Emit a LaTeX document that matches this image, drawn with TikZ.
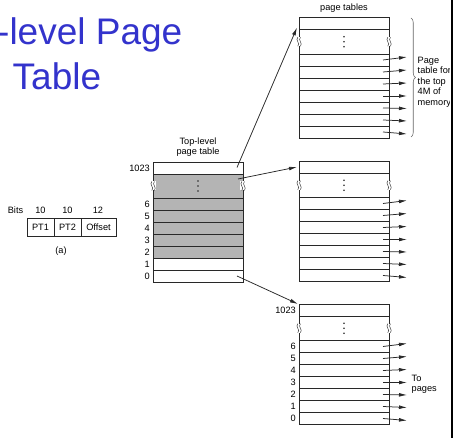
\documentclass[tikz,border=0pt]{standalone}
\usepackage{fontspec}
\setmainfont{Liberation Sans}
\usetikzlibrary{arrows.meta,decorations.pathreplacing,calc}
\definecolor{titleblue}{RGB}{51,51,204}
\definecolor{linec}{RGB}{40,40,40}
\definecolor{cellgray}{RGB}{180,180,180}
\newcommand{\brkmark}[1]{%
  \fill[white] ($(#1)+(-2.6,-4.5)$) rectangle ($(#1)+(2.6,4.5)$);
  \draw[linec, line width=0.45pt] ($(#1)+(-1.2,-4.5)$) .. controls ($(#1)+(-4.2,-1.5)$) and ($(#1)+(1.8,1.5)$) .. ($(#1)+(-1.2,4.5)$);
  \draw[linec, line width=0.45pt] ($(#1)+(1.4,-4.5)$) .. controls ($(#1)+(-1.6,-1.5)$) and ($(#1)+(4.4,1.5)$) .. ($(#1)+(1.4,4.5)$);
}
\newcommand{\vdotsmark}[1]{%
  \foreach \d in {-5,0,5} \fill[linec] ($(#1)+(0,\d)$) circle (0.85pt);
}
\begin{document}
\begin{tikzpicture}[x=1pt,y=-1pt,
  cell/.style={draw=linec, line width=0.8pt, minimum width=90pt, minimum height=12pt,
    anchor=north west, inner sep=0pt, outer sep=0pt},
  lbl/.style={font=\fontsize{9.2}{10.5}\selectfont, inner sep=0pt},
  fieldbox/.style={draw=linec, line width=0.8pt, minimum height=18pt, anchor=north west,
    inner sep=0pt, outer sep=0pt, font=\fontsize{9.2}{10.5}\selectfont},
  ptr/.style={-{Latex[length=8pt,width=3.8pt]}, line width=0.75pt, draw=linec},
  titletext/.style={font=\fontsize{37}{45}\selectfont, text=titleblue, inner sep=0pt, anchor=base west},
]
\useasboundingbox (0,0) rectangle (453,438);
\fill[white] (0,0) rectangle (453,438);
\clip (0,0) rectangle (453,438);

% title
\node[titletext] (title1) at (-3,45) {-level Page};
\node[titletext] (title2) at (12.5,90) {Table};

% (a) address fields
\node[fieldbox, minimum width=27pt] (pt1) at (27,218) {PT1};
\node[fieldbox, minimum width=27pt] (pt2) at (54,218) {PT2};
\node[fieldbox, minimum width=35pt] (off) at (81,218) {Offset};
\node[lbl, anchor=base] (bits) at (15.5,214) {Bits};
\node[lbl, anchor=base] (b1) at (40.5,214) {10};
\node[lbl, anchor=base] (b2) at (67.5,214) {10};
\node[lbl, anchor=base] (b3) at (98,214) {12};
\node[lbl, anchor=base] (alab) at (61,254) {(a)};

% top-level page table
\node[cell] (TL-top) at (153,162) {};
\node[cell, minimum height=24pt, fill=cellgray] (TL-dots) at (153,174) {};
\foreach \i/\f in {6/cellgray,5/cellgray,4/cellgray,3/cellgray,2/cellgray,1/white,0/white}
  \node[cell, fill=\f] (TL-r\i) at (153,{198+(6-\i)*12}) {};
\vdotsmark{TL-dots.center}
\brkmark{TL-dots.west}
\brkmark{TL-dots.east}
\node[lbl, anchor=east] (TL-l1023) at ($(TL-top.west)+(-3,0)$) {1023};
\foreach \i in {6,...,0}
  \node[lbl, anchor=east] (TL-l\i) at ($(TL-r\i.west)+(-3,0)$) {\i};
\node[lbl, anchor=base] (TLt1) at (198,144.5) {Top-level};
\node[lbl, anchor=base] (TLt2) at (198,154.5) {page table};

% second-level page tables
\foreach \n/\y in {PA/17.5,PB/161,PC/304}{
  \node[cell] (\n-top) at (299,\y) {};
  \node[cell, minimum height=24.5pt] (\n-dots) at (299,\y+12) {};
  \foreach \i in {6,...,0}
    \node[cell] (\n-r\i) at (299,{\y+36.5+(6-\i)*12}) {};
  \vdotsmark{\n-dots.center}
  \brkmark{\n-dots.west}
  \brkmark{\n-dots.east}
  \foreach \i/\dy in {6/-3,5/-2,4/-1,3/0,2/0.5,1/1,0/2}
    \draw[ptr] ($(\n-r\i.east)+(-6,0)$) -- ($(\n-r\i.east)+(18,\dy)$);
}
\node[lbl, anchor=base] (ptlab) at (344,10.5) {page tables};
\node[lbl, anchor=east] (PC-l1023) at ($(PC-top.west)+(-3,0)$) {1023};
\foreach \i in {6,...,0}
  \node[lbl, anchor=east] (PC-l\i) at ($(PC-r\i.west)+(-3,0)$) {\i};

% pointers from top-level table
\coordinate (s1) at ($(TL-top.east)+(-6,-0.5)$);
\coordinate (s2) at ($(TL-dots.north east)+(-5,5)$);
\coordinate (s3) at ($(TL-r0.east)+(-6,0)$);
\coordinate (t1) at ($(PA-top.south west)+(-2,-2)$);
\coordinate (t2) at ($(PB-top.west)+(-2,0)$);
\coordinate (t3) at ($(PC-top.north west)+(-1,0)$);
\draw[ptr] (s1) -- (t1);
\draw[ptr] (s2) -- (t2);
\draw[ptr] (s3) -- (t3);

% brace and notes
\draw[decorate, decoration={brace, amplitude=4.5pt}, draw=black!60, line width=0.55pt]
  (411,18) -- (411,137);
\node[lbl, anchor=west, align=left] (note) at (417.5,82) {Page\\table for\\the top\\4M of\\memory};
\node[lbl, anchor=west, align=left] (topages) at (411.5,384.5) {To\\pages};

% right edge
\fill[white] (450,0) rectangle (451,438);
\fill[black] (451,0) rectangle (453,438);
\end{tikzpicture}
\end{document}
